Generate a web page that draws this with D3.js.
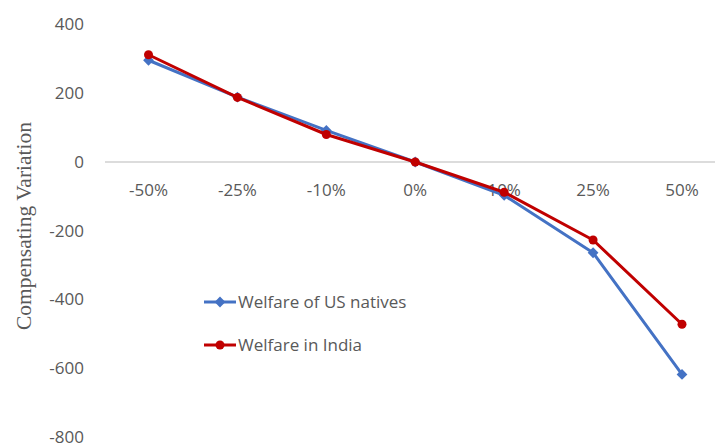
<!DOCTYPE html>
<html>
<head>
<meta charset="utf-8">
<script src="https://cdn.jsdelivr.net/npm/d3@7"></script>
<style>
  body { margin: 0; background: #fff; }
  svg { display: block; }
</style>
</head>
<body>
<svg id="chart" width="715" height="448"></svg>
<script>
// Change in immigration scenarios
const categories = ["-50%", "-25%", "-10%", "0%", "10%", "25%", "50%"];
// Compensating variation for each scenario
const usNatives = [296, 189, 92, 0, -97, -264, -618];
const india = [312, 188, 80, 0, -88, -227, -472];
const yTicks = [400, 200, 0, -200, -400, -600, -800];
const seriesNames = ["Welfare of US natives", "Welfare in India"];

const svg = d3.select("#chart");
const axisLeft = 105, axisRight = 715;
const x = d3.scalePoint().domain(categories).range([148.5, 682]);
const y = d3.scaleLinear().domain([-800, 400]).range([437, 24.5]);
const labelFont = "Open Sans, sans-serif";
const labelSize = 17;

// Category axis drawn along zero
svg.append("line")
  .attr("x1", axisLeft).attr("x2", axisRight)
  .attr("y1", y(0)).attr("y2", y(0))
  .attr("stroke", "#d0d0d0").attr("stroke-width", 1.5);

// Value axis labels
svg.append("g").selectAll("text").data(yTicks).join("text")
  .attr("x", 84).attr("y", d => y(d))
  .attr("dy", "0.35em").attr("text-anchor", "end")
  .attr("font-family", labelFont).attr("font-size", labelSize)
  .attr("fill", "#595959")
  .text(d => d);

// Category labels
svg.append("g").selectAll("text").data(categories).join("text")
  .attr("x", d => x(d)).attr("y", 190)
  .attr("dy", "0.35em").attr("text-anchor", "middle")
  .attr("font-family", labelFont).attr("font-size", labelSize)
  .attr("fill", "#595959")
  .text(d => d);

// Axis title
svg.append("text")
  .attr("transform", `translate(23,${226}) rotate(-90)`)
  .attr("text-anchor", "middle").attr("dy", "0.35em")
  .attr("font-family", "Liberation Serif, Times New Roman, serif")
  .attr("font-size", 21.5).attr("fill", "#595959")
  .text("Compensating Variation");

const line = d3.line().x(d => x(d.c)).y(d => y(d.v));
// Square diamond marker: a square turned by 45 degrees
const diamond = d3.symbol().type(d3.symbolSquare).size(58);

function drawSeries(values, color, marker) {
  const pts = categories.map((c, i) => ({ c, v: values[i] }));
  svg.append("path").datum(pts)
    .attr("d", line).attr("fill", "none")
    .attr("stroke", color).attr("stroke-width", 3)
    .attr("stroke-linejoin", "round");
  const g = svg.append("g");
  if (marker === "diamond") {
    g.selectAll("path").data(pts).join("path")
      .attr("d", diamond)
      .attr("transform", d => `translate(${x(d.c)},${y(d.v)}) rotate(45)`)
      .attr("fill", color);
  } else {
    g.selectAll("circle").data(pts).join("circle")
      .attr("cx", d => x(d.c)).attr("cy", d => y(d.v))
      .attr("r", 4.5).attr("fill", color);
  }
}

drawSeries(usNatives, "#4472C4", "diamond");
drawSeries(india, "#C00000", "circle");

// Legend
const legend = [
  { name: seriesNames[0], color: "#4472C4", marker: "diamond", y: 302 },
  { name: seriesNames[1], color: "#C00000", marker: "circle", y: 345 }
];
legend.forEach(l => {
  svg.append("line").attr("x1", 204).attr("x2", 236)
    .attr("y1", l.y).attr("y2", l.y)
    .attr("stroke", l.color).attr("stroke-width", 3);
  if (l.marker === "diamond") {
    svg.append("path").attr("d", diamond)
      .attr("transform", `translate(220,${l.y}) rotate(45)`).attr("fill", l.color);
  } else {
    svg.append("circle").attr("cx", 220).attr("cy", l.y)
      .attr("r", 4.5).attr("fill", l.color);
  }
  svg.append("text").attr("x", 238).attr("y", l.y)
    .attr("dy", "0.35em")
    .attr("font-family", labelFont).attr("font-size", labelSize)
    .attr("fill", "#595959").text(l.name);
});
</script>
</body>
</html>
